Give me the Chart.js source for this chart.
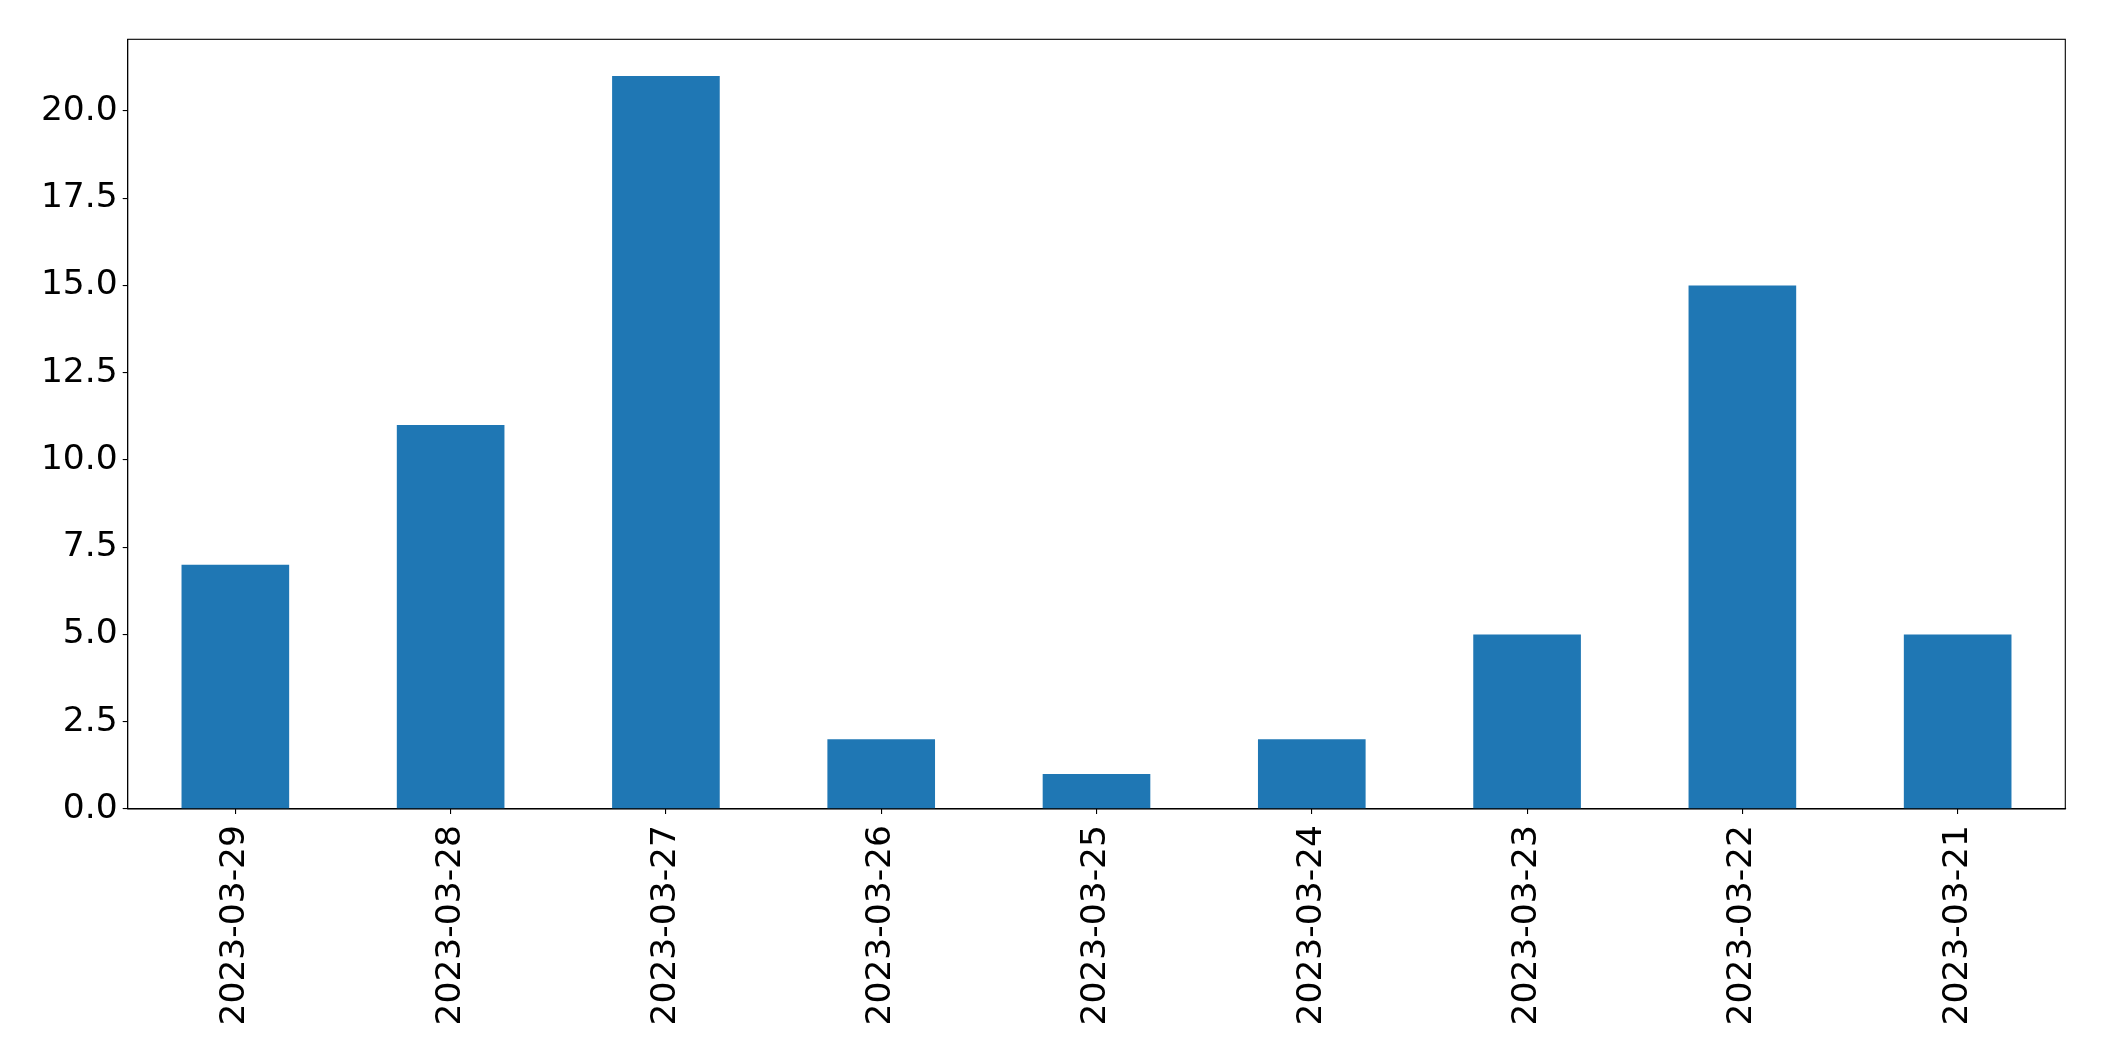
<!DOCTYPE html>
<html>
<head>
<meta charset="utf-8">
<script src="https://cdn.jsdelivr.net/npm/chart.js@4.4.0/dist/chart.umd.min.js"></script>
<style>
html,body{margin:0;padding:0;background:#fff;}
#wrap{width:2104px;height:1061px;position:relative;}
</style>
</head>
<body>
<div id="wrap"><canvas id="c" width="2104" height="1061"></canvas></div>
<script>
const categories = ["2023-03-29","2023-03-28","2023-03-27","2023-03-26","2023-03-25","2023-03-24","2023-03-23","2023-03-22","2023-03-21"];
const values = [7, 11, 21, 2, 1, 2, 5, 15, 5];
const yTickValues = [0, 2.5, 5, 7.5, 10, 12.5, 15, 17.5, 20];

const frame = {
  id: 'frame',
  afterDraw(chart) {
    const a = chart.chartArea, ctx = chart.ctx;
    ctx.save();
    ctx.strokeStyle = '#000';
    ctx.lineWidth = 1.1;
    ctx.strokeRect(a.left, a.top, a.right - a.left, a.bottom - a.top);
    ctx.restore();
  }
};

new Chart(document.getElementById('c'), {
  type: 'bar',
  data: {
    labels: categories,
    datasets: [{
      data: values,
      backgroundColor: '#1f77b4',
      borderWidth: 0,
      barPercentage: 0.5,
      categoryPercentage: 1.0
    }]
  },
  options: {
    responsive: false,
    animation: false,
    devicePixelRatio: 1,
    layout: { padding: { top: 39.3, right: 38.7, left: 0, bottom: 0 } },
    plugins: { legend: { display: false }, tooltip: { enabled: false } },
    scales: {
      x: {
        offset: true,
        grid: { display: true, drawOnChartArea: false, color: '#000', tickColor: '#000', tickLength: 5, lineWidth: 1.1, offset: false },
        border: { display: true, color: '#000', width: 1.1 },
        ticks: { color: '#000', font: { family: 'DejaVu Sans', size: 34.5 }, minRotation: 90, maxRotation: 90, padding: 11, autoSkip: false },
        afterFit(s) { s.height = 1061 - 809; }
      },
      y: {
        min: 0,
        max: 22.05,
        grid: { display: true, drawOnChartArea: false, color: '#000', tickColor: '#000', tickLength: 5, lineWidth: 1.1 },
        border: { display: true, color: '#000', width: 1.1 },
        ticks: { color: '#000', font: { family: 'DejaVu Sans', size: 34.5 }, padding: 5, stepSize: 2.5, callback: v => Number(v).toFixed(1) },
        afterBuildTicks(s) { s.ticks = yTickValues.map(v => ({ value: v })); },
        afterFit(s) { s.width = 127.7; }
      }
    }
  },
  plugins: [frame]
});
</script>
</body>
</html>
